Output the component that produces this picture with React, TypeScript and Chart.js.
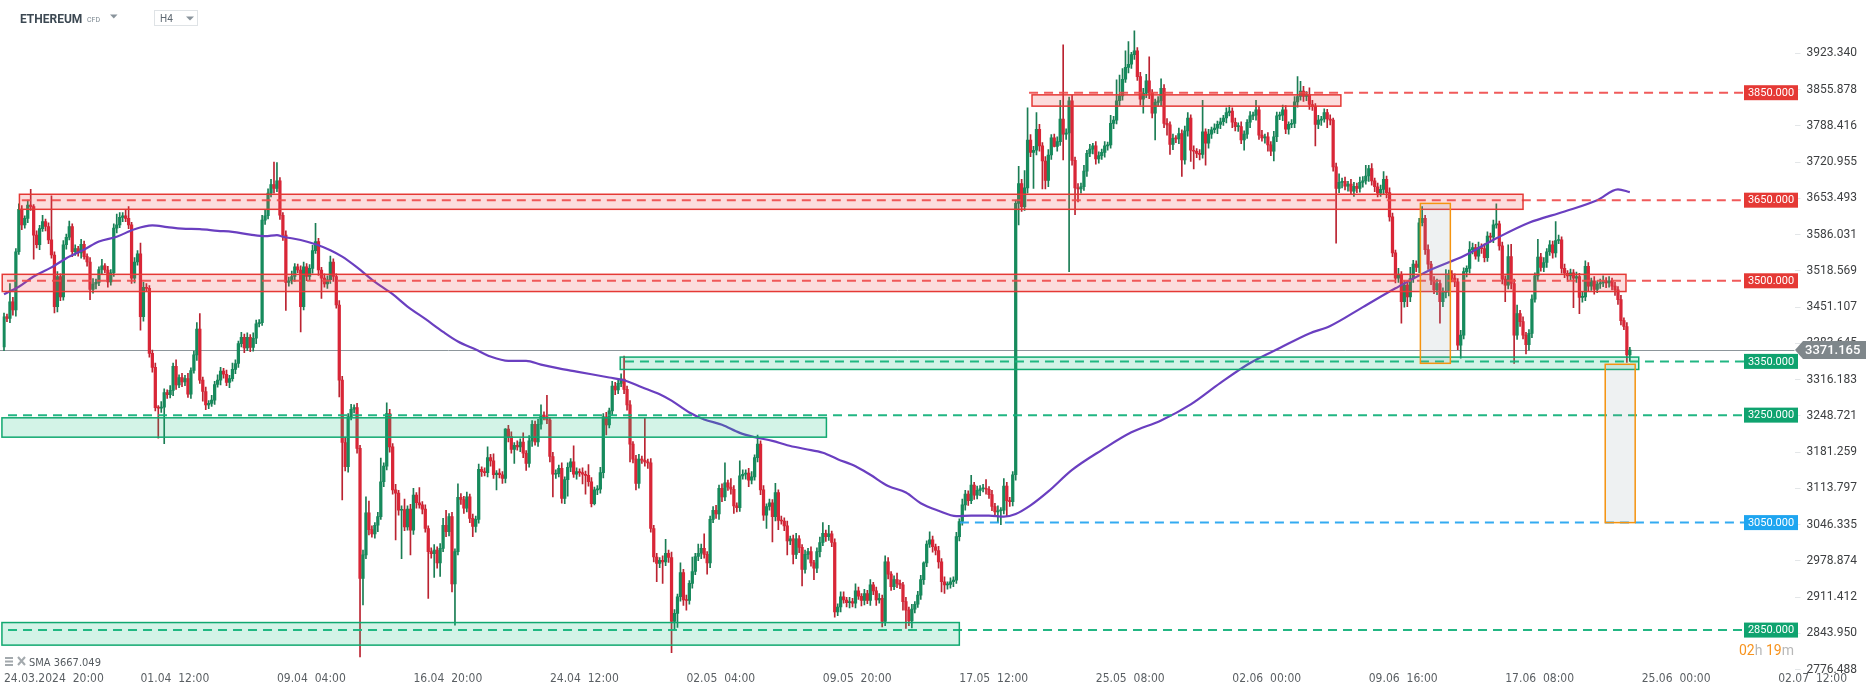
import React, { useEffect, useRef } from 'react';
import { Chart, registerables } from 'chart.js';

Chart.register(...registerables);

// ---------- DATA ----------
const FIRST_OPEN = 3377;

const closes = [
  // 0-109
  3433, 3430, 3461, 3446, 3554, 3633, 3604, 3616, 3641, 3638,
  3585, 3567, 3597, 3610, 3601, 3576, 3548, 3452, 3508, 3470,
  3567, 3581, 3601, 3554, 3560, 3552, 3568, 3545, 3535, 3484,
  3494, 3497, 3521, 3528, 3520, 3498, 3515, 3598, 3604, 3618,
  3621, 3616, 3604, 3505, 3535, 3550, 3433, 3488, 3486, 3365,
  3339, 3264, 3263, 3265, 3292, 3288, 3296, 3341, 3306, 3320,
  3312, 3318, 3289, 3333, 3362, 3410, 3315, 3294, 3269, 3272,
  3278, 3307, 3315, 3332, 3326, 3311, 3318, 3335, 3346, 3383,
  3395, 3375, 3395, 3376, 3393, 3420, 3422, 3613, 3621, 3663,
  3679, 3672, 3686, 3622, 3585, 3497, 3500, 3508, 3526, 3520,
  3452, 3526, 3508, 3523, 3556, 3573, 3520, 3505, 3494, 3502,
  // 110-220
  3535, 3508, 3455, 3315, 3199, 3154, 3247, 3261, 3264, 3188,
  2946, 2990, 3068, 3037, 3029, 3045, 3061, 3126, 3155, 3253,
  3191, 3111, 3105, 3073, 3074, 3042, 3075, 3036, 3101, 3087,
  3083, 3075, 3039, 2996, 2992, 2999, 2975, 3002, 3045, 3033,
  3061, 2936, 2996, 3097, 3093, 3077, 3098, 3058, 3043, 3056,
  3149, 3145, 3143, 3171, 3165, 3139, 3142, 3139, 3132, 3224,
  3210, 3186, 3194, 3191, 3200, 3179, 3160, 3202, 3233, 3200,
  3233, 3250, 3247, 3241, 3173, 3140, 3141, 3151, 3095, 3130,
  3153, 3163, 3140, 3145, 3143, 3140, 3138, 3126, 3085, 3111,
  3112, 3143, 3247, 3232, 3258, 3304, 3297, 3309, 3317, 3298,
  3269, 3196, 3168, 3123, 3168, 3166, 3163, 3161, 3039, 2986,
  2974,
  // 221-340
  2980, 2977, 2993, 2985, 2866, 2881, 2912, 2957, 2906,
  2905, 2937, 2959, 2987, 2993, 3002, 2991, 2975, 3056, 3073,
  3066, 3114, 3098, 3124, 3116, 3112, 3081, 3078, 3137, 3140,
  3142, 3129, 3135, 3171, 3196, 3111, 3064, 3080, 3087, 3061,
  3106, 3054, 3053, 3044, 3016, 3020, 2991, 3020, 3004, 2963,
  2991, 2996, 2975, 2965, 2996, 3013, 3030, 3024, 3029, 3013,
  2884, 2893, 2912, 2906, 2901, 2903, 2900, 2923, 2913, 2905,
  2918, 2905, 2934, 2923, 2906, 2909, 2866, 2977, 2954, 2931,
  2944, 2937, 2934, 2903, 2887, 2867, 2889, 2898, 2915, 2944,
  2975, 3010, 3018, 3005, 2998, 2977, 2940, 2934, 2935, 2940,
  2943, 3024, 3052, 3083, 3103, 3091, 3120, 3101, 3110, 3113,
  3114, 3112, 3102, 3080, 3070, 3072, 3073, 3118, 3091, 3089,
  3139,
  // 341-449
  3644, 3681, 3638, 3673, 3762, 3739, 3743, 3782, 3751,
  3723, 3687, 3734, 3766, 3750, 3759, 3801, 3773, 3775, 3835,
  3724, 3673, 3671, 3675, 3704, 3737, 3745, 3751, 3727, 3733,
  3739, 3751, 3753, 3793, 3799, 3835, 3844, 3875, 3897, 3903,
  3921, 3928, 3880, 3838, 3849, 3872, 3849, 3812, 3832, 3835,
  3858, 3793, 3790, 3754, 3765, 3764, 3774, 3725, 3779, 3803,
  3743, 3741, 3737, 3735, 3777, 3756, 3773, 3781, 3784, 3791,
  3796, 3803, 3813, 3816, 3795, 3787, 3787, 3762, 3773, 3795,
  3807, 3808, 3818, 3771, 3766, 3768, 3753, 3741, 3768, 3807,
  3808, 3818, 3782, 3791, 3793, 3833, 3843, 3853, 3843, 3846,
  3828, 3824, 3791, 3799, 3801, 3813, 3801, 3799, 3712, 3672,
  // 450-548
  3683, 3685, 3676, 3680, 3667, 3676, 3672, 3683, 3686, 3695,
  3709, 3686, 3675, 3663, 3670, 3689, 3664, 3619, 3552, 3505,
  3511, 3461, 3492, 3470, 3504, 3531, 3525, 3608, 3616, 3558,
  3531, 3501, 3483, 3495, 3461, 3478, 3480, 3513, 3505, 3498,
  3380, 3399, 3517, 3523, 3558, 3562, 3546, 3562, 3560, 3543,
  3583, 3581, 3604, 3606, 3565, 3503, 3492, 3545, 3495, 3399,
  3439, 3424, 3399, 3381, 3402, 3466, 3509, 3544, 3525, 3534,
  3554, 3567, 3552, 3575, 3576, 3523, 3514, 3509, 3515, 3505,
  3508, 3469, 3470, 3527, 3490, 3500, 3484, 3494, 3496, 3500,
  3496, 3500, 3490, 3483, 3465, 3426, 3415, 3362, 3371,
];

// upper wick length above the body
const wickUp = [
  7, 5, 34, 8, 6, 10, 7, 5, 9, 29,
  4, 8, 6, 12, 5, 7, 82, 6, 9, 5,
  8, 6, 10, 5, 7, 4, 9, 6, 5, 8,
  10, 6, 5, 12, 4, 7, 6, 8, 20, 9,
  6, 11, 22, 5, 8, 6, 20, 9, 7, 5,
  6, 8, 4, 10, 7, 5, 9, 6, 12, 5,
  8, 6, 10, 5, 7, 12, 29, 6, 8, 5,
  9, 6, 10, 7, 5, 8, 6, 12, 7, 5,
  9, 6, 8, 5, 10, 7, 6, 9, 12, 8,
  10, 42, 34, 6, 5, 8, 7, 10, 6, 5,
  8, 9, 6, 7, 10, 34, 6, 5, 8, 7,
  11, 6, 5, 8, 7, 10, 6, 9, 5, 8,
  6, 9, 30, 22, 7, 5, 8, 44, 6, 20,
  8, 6, 10, 5, 7, 20, 6, 9, 13, 5,
  28, 6, 8, 5, 7, 10, 6, 9, 13, 28,
  6, 8, 5, 25, 7, 6, 9, 5, 8, 6,
  10, 5, 7, 20, 6, 13, 5, 8, 6, 1,
  7, 9, 5, 8, 6, 17, 5, 10, 7, 6,
  9, 19, 6, 40, 5, 8, 7, 6, 10, 5,
  8, 6, 30, 7, 5, 9, 6, 20, 8, 5,
  7, 10, 6, 8, 5, 9, 7, 6, 10, 43,
  6, 8, 5, 7, 9, 6, 78, 5, 8, 6,
  7, 5, 8, 26, 6, 10, 7, 5, 18, 6,
  9, 5, 27, 6, 17, 8, 27, 5, 6, 7,
  9, 6, 8, 37, 5, 16, 7, 6, 28, 8,
  6, 9, 10, 5, 17, 6, 8, 5, 7, 6,
  17, 5, 8, 6, 9, 5, 7, 10, 6, 5,
  8, 6, 9, 5, 7, 10, 20, 6, 16, 5,
  7, 6, 9, 9, 5, 8, 6, 13, 7, 5,
  8, 6, 10, 5, 7, 9, 6, 11, 8, 5,
  7, 12, 6, 5, 8, 6, 9, 5, 7, 8,
  2, 6, 15, 7, 5, 8, 6, 9, 5, 7,
  6, 8, 5, 11, 7, 6, 18, 5, 8, 6,
  7, 16, 5, 8, 6, 9, 5, 14, 7, 6,
  6, 6, 32, 8, 32, 60, 10, 7, 31, 9,
  6, 8, 10, 6, 7, 9, 35, 138, 8, 7,
  10, 6, 8, 7, 11, 6, 9, 5, 8, 7,
  6, 8, 5, 15, 7, 39, 39, 20, 31, 42,
  4, 37, 6, 8, 9, 12, 45, 7, 6, 8,
  18, 7, 9, 6, 8, 5, 10, 7, 9, 10,
  6, 8, 5, 7, 59, 6, 9, 5, 8, 6,
  7, 5, 9, 10, 6, 8, 7, 9, 6, 5,
  8, 6, 18, 7, 9, 5, 8, 6, 10, 7,
  6, 9, 8, 5, 7, 10, 37, 18, 9, 6,
  13, 8, 6, 9, 5, 7, 6, 8, 4, 7,
  16, 6, 8, 5, 9, 7, 6, 10, 8, 20,
  6, 9, 5, 7, 8, 14, 6, 9, 7, 5,
  12, 6, 8, 5, 21, 7, 6, 8, 22, 6,
  9, 5, 7, 8, 6, 9, 41, 7, 6, 8,
  6, 9, 7, 5, 15, 8, 6, 10, 7, 9,
  8, 6, 9, 37, 5, 7, 6, 22, 23, 8,
  16, 6, 9, 5, 7, 8, 6, 33, 7, 9,
  6, 8, 7, 35, 9, 6, 8, 5, 7, 6,
  8, 6, 9, 10, 7, 5, 8, 6, 7, 9,
  6, 8, 5, 7, 6, 8, 5, 7, 5,
];

// lower wick length below the body
const wickDn = [
  7, 6, 8, 10, 12, 5, 9, 6, 8, 7,
  45, 6, 9, 5, 8, 7, 6, 12, 10, 7,
  6, 8, 5, 9, 7, 6, 10, 5, 8, 19,
  7, 9, 6, 8, 5, 10, 6, 7, 9, 5,
  8, 6, 7, 10, 9, 6, 25, 8, 5, 7,
  9, 6, 56, 8, 68, 7, 6, 10, 8, 5,
  9, 7, 6, 8, 5, 10, 6, 18, 9, 7,
  6, 8, 5, 9, 7, 6, 10, 5, 8, 7,
  6, 9, 5, 8, 7, 10, 6, 5, 8, 6,
  7, 9, 6, 8, 10, 52, 7, 6, 9, 5,
  47, 6, 8, 7, 9, 5, 10, 38, 6, 8,
  7, 9, 6, 31, 107, 8, 10, 6, 7, 9,
  146, 49, 7, 10, 6, 8, 12, 5, 9, 7,
  10, 8, 87, 9, 90, 7, 6, 46, 8, 10,
  6, 9, 7, 87, 8, 44, 10, 25, 6, 9,
  8, 15, 77, 6, 9, 10, 7, 8, 19, 11,
  7, 9, 6, 8, 10, 7, 28, 6, 9, 8,
  10, 7, 26, 6, 9, 8, 13, 7, 10, 6,
  8, 9, 6, 7, 10, 42, 8, 6, 9, 10,
  31, 8, 6, 9, 7, 18, 35, 8, 6, 2,
  9, 7, 10, 19, 6, 8, 9, 7, 6, 8,
  10, 33, 7, 12, 9, 6, 8, 10, 7, 9,
  34, 8, 40, 7, 9, 58, 15, 26, 8, 10,
  18, 7, 9, 6, 8, 10, 7, 21, 9, 6,
  8, 10, 9, 7, 6, 9, 14, 8, 7, 6,
  9, 12, 7, 6, 8, 9, 10, 25, 7, 47,
  8, 17, 6, 9, 26, 7, 18, 8, 10, 31,
  7, 9, 6, 21, 8, 10, 6, 9, 7, 8,
  10, 7, 9, 6, 8, 10, 7, 9, 6, 10,
  8, 6, 9, 7, 10, 6, 10, 8, 9, 7,
  6, 8, 7, 16, 34, 9, 13, 7, 6, 8,
  9, 7, 6, 10, 8, 12, 19, 16, 8, 7,
  9, 6, 8, 7, 10, 9, 6, 8, 7, 10,
  6, 9, 7, 8, 8, 20, 26, 7, 29, 9,
  8, 10, 40, 9, 7, 10, 8, 67, 9, 10,
  52, 16, 12, 8, 1, 9, 7, 48, 10, 258,
  9, 50, 24, 8, 7, 10, 6, 9, 10, 8,
  7, 9, 8, 6, 10, 7, 9, 8, 6, 10,
  8, 9, 7, 11, 26, 8, 10, 9, 50, 7,
  9, 8, 19, 19, 10, 7, 9, 31, 8, 10,
  21, 33, 8, 10, 7, 41, 9, 8, 6, 10,
  8, 7, 9, 6, 10, 8, 9, 7, 19, 8,
  10, 7, 9, 8, 6, 10, 12, 8, 18, 9,
  7, 10, 8, 9, 6, 8, 10, 7, 9, 8,
  9, 7, 40, 8, 10, 6, 16, 9, 8, 102,
  8, 10, 7, 9, 6, 10, 8, 7, 9, 6,
  10, 8, 9, 7, 6, 9, 10, 8, 7, 9,
  8, 40, 10, 18, 9, 7, 8, 10, 6, 9,
  10, 8, 7, 9, 40, 9, 10, 8, 7, 9,
  8, 24, 7, 10, 9, 8, 6, 10, 9, 8,
  7, 9, 10, 6, 8, 9, 31, 7, 10, 53,
  8, 9, 7, 17, 10, 8, 6, 9, 7, 8,
  9, 7, 10, 8, 6, 9, 8, 10, 7, 55,
  8, 30, 9, 7, 10, 8, 9, 6, 8, 7,
  9, 8, 7, 10, 9, 8, 6, 14, 12,
];

// SMA curve read at sample candles
const smaIdx = [0, 5, 10, 16, 21, 27, 32, 38, 44, 50, 55, 60, 66, 72, 77, 83, 88, 92, 94, 100, 105, 110, 114, 119, 125, 131, 136, 142, 148, 153, 159, 164, 170, 176, 181, 187, 193, 198, 204, 209, 215, 221, 225, 231, 236, 242, 248, 253, 259, 264, 270, 276, 281, 287, 292, 298, 304, 309, 315, 321, 326, 332, 337, 341, 346, 352, 360, 370, 380, 390, 400, 410, 420, 430, 440, 447, 458, 469, 481, 492, 503, 514, 526, 537, 544, 548];
const smaVal = [3475, 3489, 3508, 3525, 3542, 3558, 3573, 3582, 3596, 3603, 3600, 3597, 3596, 3593, 3591, 3586, 3583, 3585, 3582, 3576, 3568, 3557, 3545, 3525, 3498, 3475, 3452, 3429, 3405, 3387, 3372, 3359, 3351, 3351, 3344, 3337, 3331, 3326, 3320, 3315, 3302, 3289, 3277, 3255, 3242, 3232, 3217, 3209, 3202, 3194, 3187, 3180, 3168, 3155, 3139, 3118, 3106, 3086, 3072, 3062, 3063, 3063, 3061, 3066, 3082, 3108, 3148, 3185, 3218, 3240, 3270, 3310, 3347, 3375, 3402, 3416, 3451, 3486, 3521, 3546, 3579, 3608, 3629, 3650, 3670, 3665];
const SMA_LAST = '3667.049';

const xTickIdx = [0, 46, 92, 138, 184, 230, 276, 322, 368, 414, 460, 506, 552, 598];
const xTickLabels = ['24.03.2024  20:00', '01.04  12:00', '09.04  04:00', '16.04  20:00', '24.04  12:00', '02.05  04:00', '09.05  20:00', '17.05  12:00', '25.05  08:00', '02.06  00:00', '09.06  16:00', '17.06  08:00', '25.06  00:00', '02.07  12:00'];
const yTicks = [2776.488, 2843.95, 2911.412, 2978.874, 3046.335, 3113.797, 3181.259, 3248.721, 3316.183, 3383.645, 3451.107, 3518.569, 3586.031, 3653.493, 3720.955, 3788.416, 3855.878, 3923.34];

const levelPrices = [3850, 3650, 3500, 3350, 3250, 3050, 2850];
const levelKinds = ['red', 'red', 'red', 'green', 'green', 'blue', 'green'];
const levelFrom = [345.5, 6, 1, 209.3, 1.35, 322.2, 1.35];

const zoneLo = [3825, 3633, 3480, 3335, 3209, 2822];
const zoneHi = [3846, 3661, 3512, 3358, 3245, 2864];
const zoneFrom = [346.5, 5.2, -0.6, 207.7, -0.7, -0.7];
const zoneTo = [450.6, 512, 546.7, 551, 277.2, 322];
const zoneKinds = ['red', 'red', 'red', 'green', 'green', 'green'];

const boxFrom = [477.4, 539.7];
const boxTo = [487.5, 549.8];
const boxLo = [3346.4, 3050];
const boxHi = [3644, 3344.6];

const CURRENT_PRICE = 3371.165;
const N_SLOTS = 604;
const Y_MIN = 2775.7;
const Y_MAX = 3966.7;

// ---------- STYLE ----------
const NARROW = "'DejaVu Sans Condensed', 'Liberation Sans Narrow', Roboto, sans-serif";
const COL = {
  red: { line: 'rgba(238,72,72,0.9)', fill: 'rgba(240,80,80,0.2)', stroke: '#e53935', label: '#e53935' },
  green: { line: 'rgba(22,178,124,0.95)', fill: 'rgba(20,190,130,0.19)', stroke: '#10a870', label: '#0fa36f' },
  blue: { line: 'rgba(40,165,240,0.95)', fill: 'rgba(40,165,240,0.2)', stroke: '#1ea7f0', label: '#1ea5f0' },
};

const overlayPlugin = {
  id: 'overlay',
  beforeDatasetsDraw(chart: any) {
    const { ctx, chartArea, scales } = chart;
    const y = scales.y;
    ctx.save();
    ctx.strokeStyle = '#8d969b';
    ctx.lineWidth = 1;
    const py = Math.round(y.getPixelForValue(CURRENT_PRICE)) + 0.5;
    ctx.beginPath();
    ctx.moveTo(0, py);
    ctx.lineTo(chartArea.right, py);
    ctx.stroke();
    ctx.restore();
  },
  afterDatasetsDraw(chart: any) {
    const { ctx, chartArea, scales } = chart;
    const x = scales.x, y = scales.y;
    const labelLeft = chartArea.right - 50.5;
    ctx.save();
    // dashed levels
    ctx.lineWidth = 2;
    ctx.setLineDash([9, 6]);
    levelPrices.forEach((p, i) => {
      const c = (COL as any)[levelKinds[i]];
      const py = y.getPixelForValue(p);
      ctx.strokeStyle = c.line;
      ctx.beginPath();
      ctx.moveTo(x.getPixelForValue(levelFrom[i]), py);
      ctx.lineTo(labelLeft, py);
      ctx.stroke();
    });
    ctx.setLineDash([]);
    // zones
    zoneLo.forEach((lo, i) => {
      const c = (COL as any)[zoneKinds[i]];
      const x0 = Math.max(x.getPixelForValue(zoneFrom[i]), 1.5);
      const x1 = x.getPixelForValue(zoneTo[i]);
      const y0 = y.getPixelForValue(zoneHi[i]);
      const y1 = y.getPixelForValue(lo);
      ctx.fillStyle = c.fill;
      ctx.fillRect(x0, y0, x1 - x0, y1 - y0);
      ctx.strokeStyle = c.stroke;
      ctx.lineWidth = 1.5;
      ctx.strokeRect(x0, y0, x1 - x0, y1 - y0);
    });
    // projection boxes
    boxFrom.forEach((bf, i) => {
      const x0 = x.getPixelForValue(bf);
      const x1 = x.getPixelForValue(boxTo[i]);
      const y0 = y.getPixelForValue(boxHi[i]);
      const y1 = y.getPixelForValue(boxLo[i]);
      ctx.fillStyle = 'rgba(140,160,170,0.15)';
      ctx.fillRect(x0, y0, x1 - x0, y1 - y0);
      ctx.strokeStyle = '#f5930f';
      ctx.lineWidth = 1.5;
      ctx.strokeRect(x0, y0, x1 - x0, y1 - y0);
    });
    ctx.restore();
  },
  afterDraw(chart: any) {
    const { ctx, chartArea, scales } = chart;
    const y = scales.y;
    const labelLeft = chartArea.right - 50.5;
    ctx.save();
    // level labels
    ctx.font = '11px Roboto';
    ctx.textAlign = 'center';
    ctx.textBaseline = 'middle';
    levelPrices.forEach((p, i) => {
      const c = (COL as any)[levelKinds[i]];
      const py = y.getPixelForValue(p);
      ctx.fillStyle = c.label;
      ctx.fillRect(labelLeft, py - 7.5, 54, 15);
      ctx.fillStyle = '#ffffff';
      ctx.fillText(p.toFixed(3), labelLeft + 27, py + 0.5);
    });
    // current price label
    const cy = y.getPixelForValue(CURRENT_PRICE);
    const ax = chartArea.right + 0.5;
    ctx.fillStyle = '#7f878b';
    ctx.beginPath();
    ctx.moveTo(ax, cy);
    ctx.lineTo(ax + 8, cy - 9);
    ctx.lineTo(1866, cy - 9);
    ctx.lineTo(1866, cy + 9);
    ctx.lineTo(ax + 8, cy + 9);
    ctx.closePath();
    ctx.fill();
    ctx.fillStyle = '#ffffff';
    ctx.font = '500 13px Roboto';
    ctx.textAlign = 'left';
    ctx.fillText(CURRENT_PRICE.toFixed(3), ax + 10, cy + 0.5);

    // header
    ctx.textBaseline = 'alphabetic';
    ctx.font = 'bold 12px Roboto';
    ctx.fillStyle = '#3c4852';
    ctx.fillText('ETHEREUM', 20, 23);
    ctx.font = '7px Roboto';
    ctx.fillStyle = '#7b8790';
    ctx.fillText('CFD', 87, 21.5);
    ctx.fillStyle = '#8a949c';
    ctx.beginPath();
    ctx.moveTo(110, 14.5); ctx.lineTo(117.5, 14.5); ctx.lineTo(113.75, 18.5); ctx.closePath(); ctx.fill();
    ctx.strokeStyle = '#dfe3e6';
    ctx.lineWidth = 1;
    ctx.strokeRect(154.5, 10.5, 43, 15);
    ctx.font = '10px Roboto';
    ctx.fillStyle = '#5d6770';
    ctx.fillText('H4', 160, 22);
    ctx.fillStyle = '#8a949c';
    ctx.beginPath();
    ctx.moveTo(186, 16.5); ctx.lineTo(194, 16.5); ctx.lineTo(190, 20.5); ctx.closePath(); ctx.fill();

    // legend of SMA
    ctx.fillStyle = '#a3a9ad';
    ctx.fillRect(5, 657, 8, 2);
    ctx.fillRect(5, 660.5, 8, 2);
    ctx.fillRect(5, 664, 8, 2);
    ctx.strokeStyle = '#a3a9ad';
    ctx.lineWidth = 2;
    ctx.beginPath();
    ctx.moveTo(18, 657); ctx.lineTo(25, 665); ctx.moveTo(25, 657); ctx.lineTo(18, 665);
    ctx.stroke();
    ctx.font = '11px ' + NARROW;
    ctx.fillStyle = '#555b60';
    ctx.fillText('SMA ' + SMA_LAST, 29, 666);

    // timer
    ctx.font = '14px Roboto';
    let tx = 1739;
    const parts: [string, string][] = [['02', '#f7931e'], ['h', '#b8b8b8'], [' 19', '#f7931e'], ['m', '#b8b8b8']];
    parts.forEach(([t, c]) => {
      ctx.fillStyle = c;
      ctx.fillText(t, tx, 655);
      tx += ctx.measureText(t).width;
    });
    ctx.restore();
  },
};

export default function App() {
  const ref = useRef<HTMLCanvasElement | null>(null);

  useEffect(() => {
    if (!ref.current) return;
    const opens = closes.map((c, i) => (i === 0 ? FIRST_OPEN : closes[i - 1]));
    const highs = closes.map((c, i) => Math.max(opens[i], c) + (wickUp[i] ?? 6));
    const lows = closes.map((c, i) => Math.min(opens[i], c) - (wickDn[i] ?? 6));
    const up = closes.map((c, i) => c >= opens[i]);
    const bodyColors = up.map((u) => (u ? '#168a5c' : '#d92637'));
    const wickColors = up.map((u) => (u ? '#1a7d54' : '#bb2331'));
    const slotLabels = Array.from({ length: N_SLOTS }, (_, i) => String(i));
    const smaData: (number | null)[] = Array.from({ length: N_SLOTS }, () => null);
    smaIdx.forEach((ix, k) => { smaData[ix] = smaVal[k]; });

    const chart = new Chart(ref.current, {
      type: 'bar',
      data: {
        labels: slotLabels,
        datasets: [
          {
            type: 'bar',
            label: 'wick',
            data: closes.map((_, i) => [lows[i], highs[i]]) as any,
            backgroundColor: wickColors,
            barThickness: 1,
            grouped: false,
            order: 3,
            borderWidth: 0,
          } as any,
          {
            type: 'bar',
            label: 'body',
            data: closes.map((c, i) => [opens[i], c]) as any,
            backgroundColor: bodyColors,
            barThickness: 2.6,
            minBarLength: 1,
            grouped: false,
            order: 2,
            borderWidth: 0,
          } as any,
          {
            type: 'line',
            label: 'SMA',
            data: smaData,
            borderColor: '#6a3fc0',
            borderWidth: 2.2,
            pointRadius: 0,
            spanGaps: true,
            cubicInterpolationMode: 'monotone',
            order: 1,
          } as any,
        ],
      },
      options: {
        responsive: false,
        animation: false,
        devicePixelRatio: 1,
        layout: { padding: { left: 2.52, top: 30, right: 0, bottom: 0 } },
        plugins: { legend: { display: false }, tooltip: { enabled: false } },
        events: [],
        scales: {
          x: {
            type: 'category',
            offset: true,
            grid: { display: false, drawTicks: false },
            border: { display: false },
            ticks: {
              autoSkip: false,
              maxRotation: 0,
              minRotation: 0,
              align: 'start',
              padding: 2,
              color: '#5a5f63',
              font: { family: NARROW, size: 12 },
              callback: (_v: any, i: number) => xTickLabels[i],
            },
            afterBuildTicks: (s: any) => { s.ticks = xTickIdx.map((v) => ({ value: v })); },
            afterFit: (s: any) => { s.height = 25; },
          } as any,
          y: {
            type: 'linear',
            position: 'right',
            min: Y_MIN,
            max: Y_MAX,
            bounds: 'data',
            beginAtZero: false,
            grid: { drawOnChartArea: false, drawTicks: true, tickLength: 6, color: '#e3e6e8' },
            border: { display: false },
            ticks: {
              padding: 6,
              color: '#3d3f41',
              font: { family: 'Roboto', size: 12 },
              callback: (v: any) => Number(v).toFixed(3),
            },
            afterBuildTicks: (s: any) => { s.ticks = yTicks.map((v) => ({ value: v })); },
            afterFit: (s: any) => { s.width = 71.5; },
          } as any,
        },
      },
      plugins: [overlayPlugin],
    });
    return () => chart.destroy();
  }, []);

  return (
    <div style={{ position: 'fixed', left: 0, top: 0, width: 1866, height: 695, background: '#ffffff' }}>
      <canvas ref={ref} width={1866} height={695} style={{ display: 'block', width: 1866, height: 695 }} />
    </div>
  );
}
